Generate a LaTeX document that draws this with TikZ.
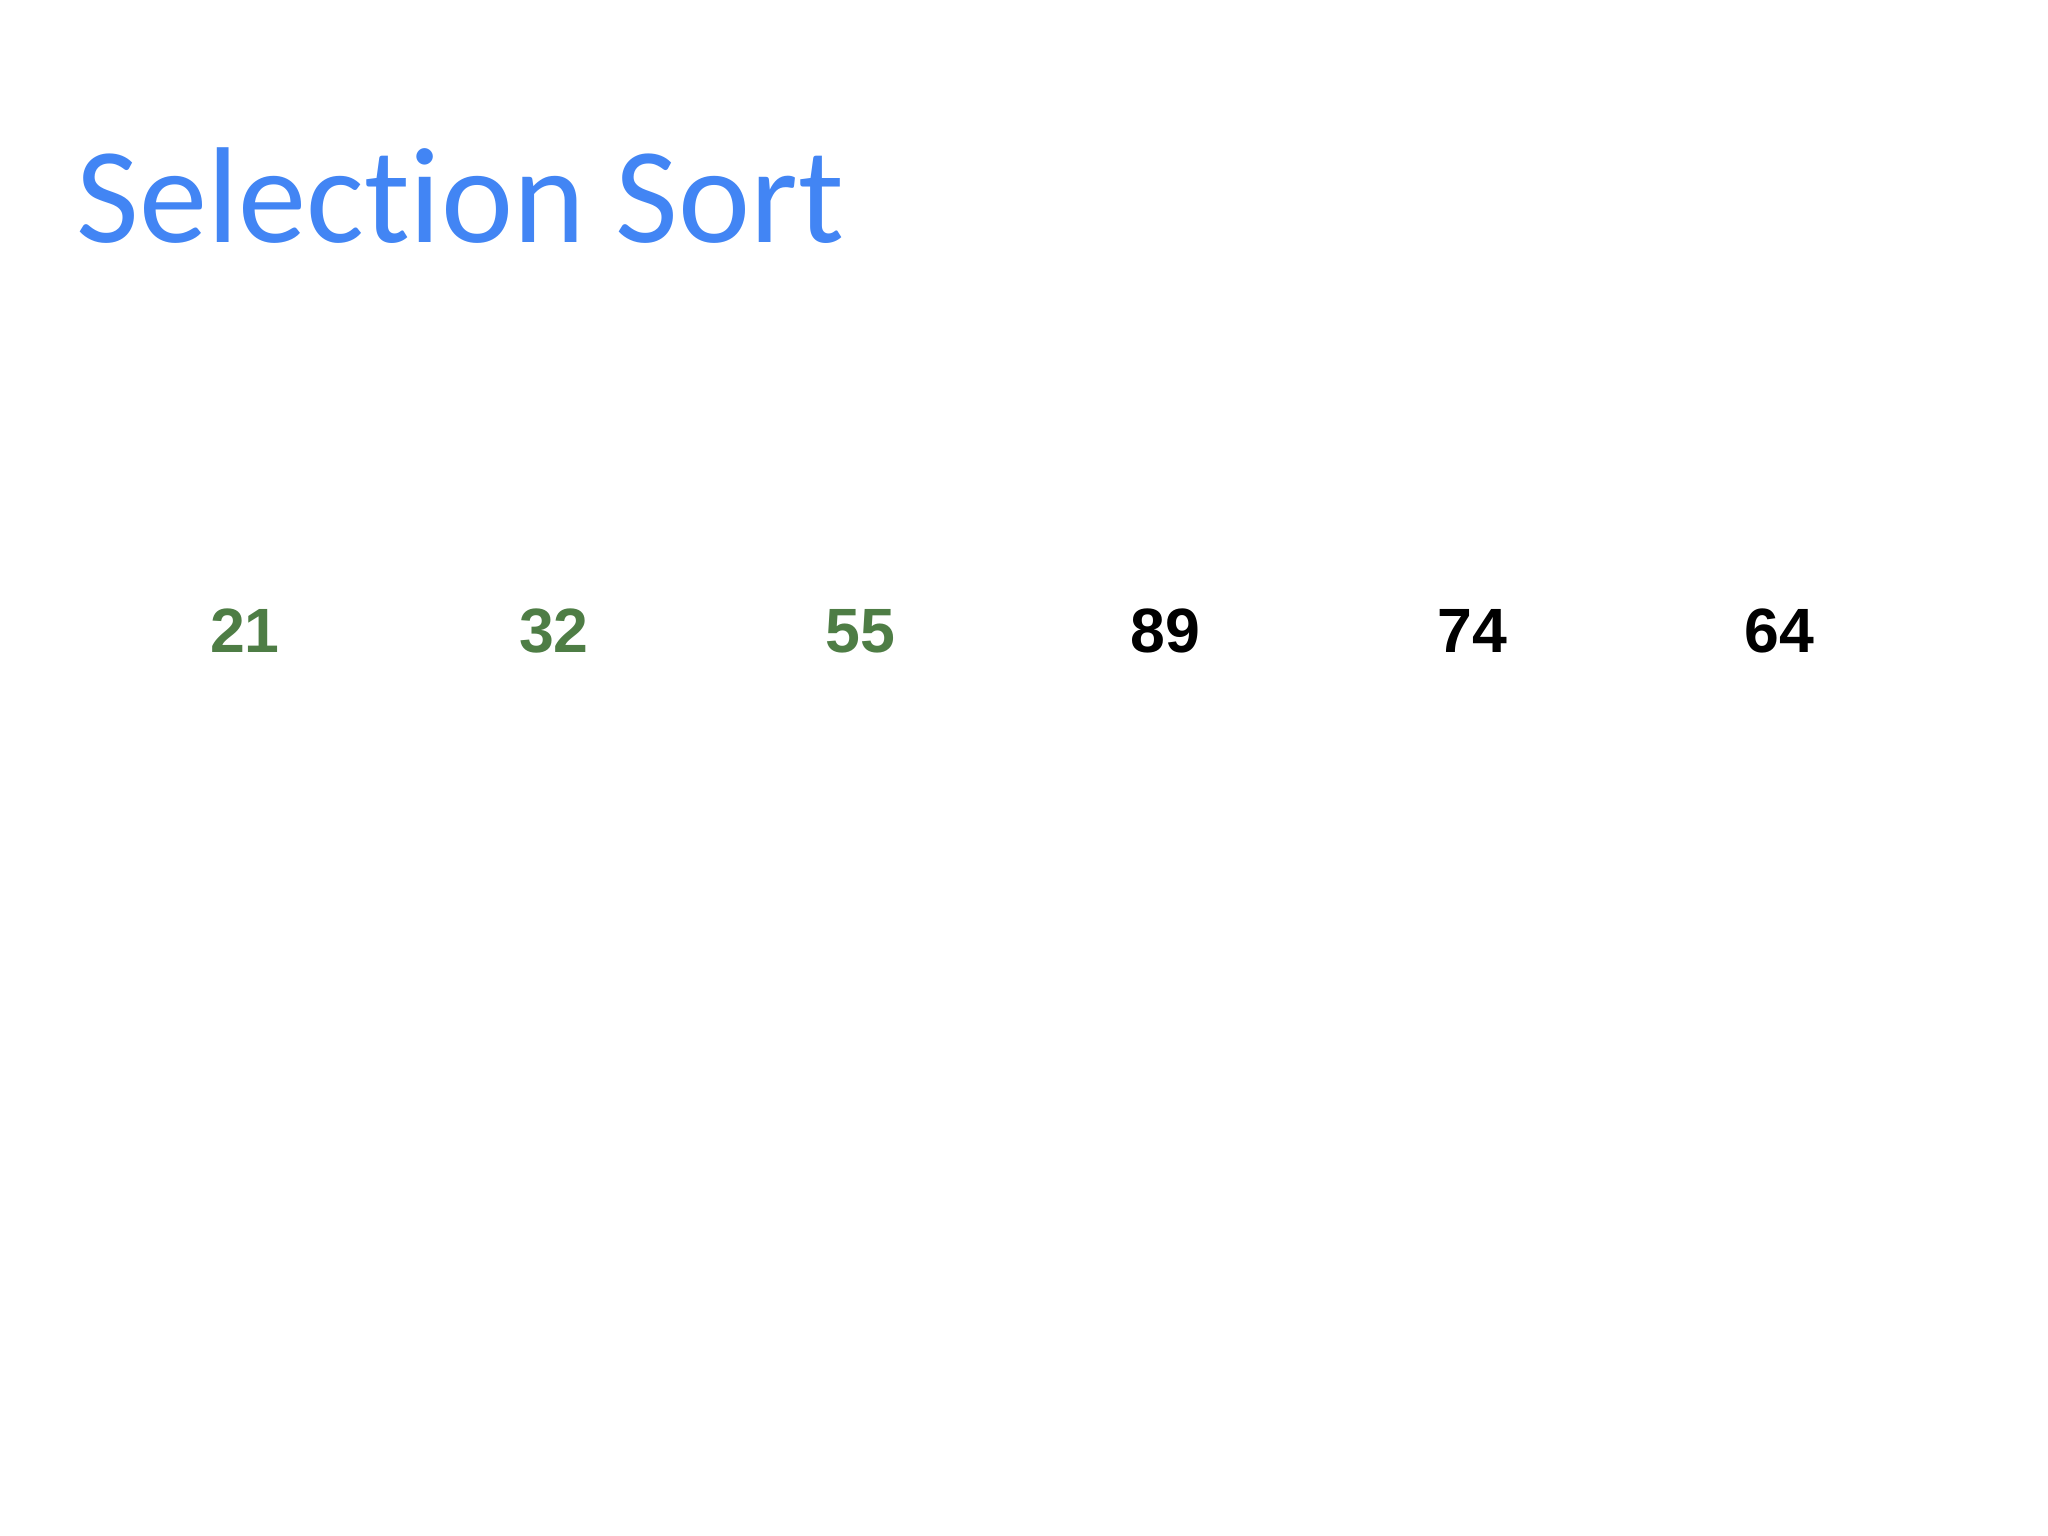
\documentclass[tikz,border=0pt]{standalone}
\usepackage{fontspec}
\setmainfont[Ligatures=NoCommon]{Carlito}
\newfontfamily\numfont{Liberation Sans}
\definecolor{titleblue}{HTML}{4285F4}
\definecolor{donegreen}{HTML}{4E7D45}
\begin{document}
\begin{tikzpicture}[x=0.3515625pt,y=-0.3515625pt,
  title/.style={anchor=base west,inner sep=0pt,text=titleblue,font=\fontsize{48}{58}\selectfont},
  num/.style={anchor=center,inner sep=0pt,font=\numfont\bfseries\fontsize{22}{26}\selectfont},
  sorted/.style={num,text=donegreen},
  unsorted/.style={num,text=black}]
\useasboundingbox[fill=white] (0,0) rectangle (2048,1536);
\node[title] (t) at (76,243) {Selection Sort};
\node[sorted] (n1) at (245,631) {21};
\node[sorted] (n2) at (554,631) {32};
\node[sorted] (n3) at (860,631) {55};
\node[unsorted] (n4) at (1165,631) {89};
\node[unsorted] (n5) at (1472,631) {74};
\node[unsorted] (n6) at (1779,631) {64};
\end{tikzpicture}
\end{document}
